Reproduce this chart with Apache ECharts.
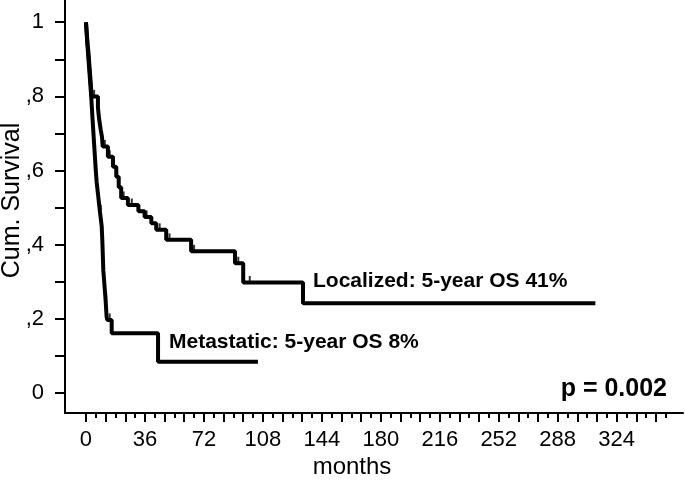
<!DOCTYPE html>
<html><head><meta charset="utf-8">
<script src="https://cdn.jsdelivr.net/npm/echarts@6/dist/echarts.min.js"></script>
<style>html,body{margin:0;padding:0;background:#fff}#c{width:685px;height:486px}</style>
</head><body><div id="c"></div>
<script>
// Kaplan-Meier step points: [month, cumulative survival]
const localizedMonths = [0, 0.3, 0.7, 1, 1.5, 2, 2.5, 3, 3.5, 7.3, 8, 9, 9.8, 10.2, 13.4, 16.5, 18.5, 20, 21.5, 25.6, 32, 35.8, 39.9, 42.9, 49, 64.2, 91, 96, 132.5, 311];
const localizedSurv   = [1.0, 0.98, 0.96, 0.94, 0.92, 0.89, 0.86, 0.83, 0.80, 0.77, 0.74, 0.71, 0.69, 0.665, 0.637, 0.61, 0.583, 0.555, 0.526, 0.507, 0.49, 0.475, 0.458, 0.44, 0.413, 0.382, 0.35, 0.298, 0.242, 0.242];
const metastaticMonths = [0, 0.3, 0.7, 1.2, 1.7, 2.2, 2.7, 3.2, 4, 5, 6, 6.5, 7.5, 8.5, 9.6, 10, 10.3, 10.6, 11.3, 12, 12.6, 13, 15.7, 44, 105];
const metastaticSurv   = [1.0, 0.98, 0.95, 0.92, 0.89, 0.86, 0.83, 0.80, 0.74, 0.67, 0.60, 0.57, 0.53, 0.49, 0.45, 0.41, 0.37, 0.33, 0.29, 0.25, 0.206, 0.197, 0.161, 0.084, 0.084];
// censored observations
const localizedCensMonths = [5, 11.5, 14.5, 19, 23, 28, 37, 45, 51, 66, 93, 100];
const localizedCensSurv   = [0.80, 0.665, 0.637, 0.583, 0.526, 0.507, 0.475, 0.44, 0.413, 0.382, 0.35, 0.298];
const metastaticCensMonths = [9, 12.3, 14.5];
const metastaticCensSurv   = [0.49, 0.25, 0.197];

const xLabelValues = [0, 36, 72, 108, 144, 180, 216, 252, 288, 324];
const xMajorTicks = [0,12,24,36,48,60,72,84,96,108,120,132,144,156,168,180,192,204,216,228,240,252,264,276,288,300,312,324,336,348];
const xMinorTicks = [6,18,30,42,54,66,78,90,102,114,126,138,150,162,174,186,198,210,222,234,246,258,270,282,294,306,318,330,342,354];
const yTickValues = [0, 0.1, 0.2, 0.3, 0.4, 0.5, 0.6, 0.7, 0.8, 0.9, 1.0];
const yLabelValues = [0, 0.2, 0.4, 0.6, 0.8, 1.0];
const yLabelTexts = ['0', ',2', ',4', ',6', ',8', '1'];

const zip = (a, b) => a.map((v, i) => [v, b[i]]);
const FONT = '"Liberation Sans", Arial, sans-serif';

const chart = echarts.init(document.getElementById('c'), null, {renderer: 'canvas'});
const xBase = {
  type: 'value', min: -12.8, max: 364.5, gridIndex: 0, position: 'bottom',
  splitLine: {show: false}
};
chart.setOption({
  animation: false,
  backgroundColor: '#fff',
  grid: {left: 65, right: 2, top: 0, bottom: 73, containLabel: false, outerBoundsMode: 'none'},
  xAxis: [
    Object.assign({}, xBase, {
      name: 'months', nameLocation: 'middle', nameGap: 42, nameMoveOverlap: false,
      nameTextStyle: {color: '#000', fontFamily: FONT, fontSize: 24, padding: [0, 44, 0, 0]},
      axisLine: {show: true, onZero: false, lineStyle: {color: '#000', width: 2}},
      axisTick: {show: true, customValues: xMajorTicks, length: 9, lineStyle: {color: '#000', width: 2}},
      axisLabel: {show: true, customValues: xLabelValues, margin: 16, color: '#000', fontFamily: FONT, fontSize: 22}
    }),
    Object.assign({}, xBase, {
      axisLine: {show: false, onZero: false},
      axisTick: {show: true, customValues: xMinorTicks, length: 5, lineStyle: {color: '#000', width: 2}},
      axisLabel: {show: false}
    })
  ],
  yAxis: {
    type: 'value', min: -0.054, max: 1.06,
    name: 'Cum. Survival', nameLocation: 'middle', nameRotate: 90, nameGap: 40, nameMoveOverlap: false,
    nameTextStyle: {color: '#000', fontFamily: FONT, fontSize: 25, padding: [0, 0, 0, 12]},
    splitLine: {show: false},
    axisLine: {show: true, onZero: false, lineStyle: {color: '#000', width: 2}},
    axisTick: {show: true, customValues: yTickValues, length: 10, lineStyle: {color: '#000', width: 2}},
    axisLabel: {
      customValues: yLabelValues, margin: 21, color: '#000', fontFamily: FONT, fontSize: 22,
      formatter: v => yLabelTexts[yLabelValues.findIndex(t => Math.abs(t - v) < 1e-6)]
    }
  },
  series: [
    {name: 'Localized', type: 'line', step: 'end', symbol: 'none', data: zip(localizedMonths, localizedSurv),
     lineStyle: {color: '#000', width: 4}, z: 3},
    {name: 'Metastatic', type: 'line', step: 'end', symbol: 'none', data: zip(metastaticMonths, metastaticSurv),
     lineStyle: {color: '#000', width: 4}, z: 3},
    {name: 'Localized censored', type: 'scatter', symbol: 'rect', symbolSize: [2, 7], symbolOffset: [0, -3],
     itemStyle: {color: '#000'}, data: zip(localizedCensMonths, localizedCensSurv), z: 4},
    {name: 'Metastatic censored', type: 'scatter', symbol: 'rect', symbolSize: [2, 7], symbolOffset: [0, -3],
     itemStyle: {color: '#000'}, data: zip(metastaticCensMonths, metastaticCensSurv), z: 4}
  ],
  graphic: [
    {type: 'text', style: {text: 'Localized: 5-year OS 41%', x: 313, y: 281, verticalAlign: 'middle', align: 'left',
      font: 'bold 21px ' + FONT, fill: '#000'}},
    {type: 'text', style: {text: 'Metastatic: 5-year OS 8%', x: 169, y: 342, verticalAlign: 'middle', align: 'left',
      font: 'bold 21px ' + FONT, fill: '#000'}},
    {type: 'text', style: {text: 'p = 0.002', x: 667, y: 389, verticalAlign: 'middle', align: 'right',
      font: 'bold 25px ' + FONT, fill: '#000'}}
  ]
});
</script>
</body></html>
